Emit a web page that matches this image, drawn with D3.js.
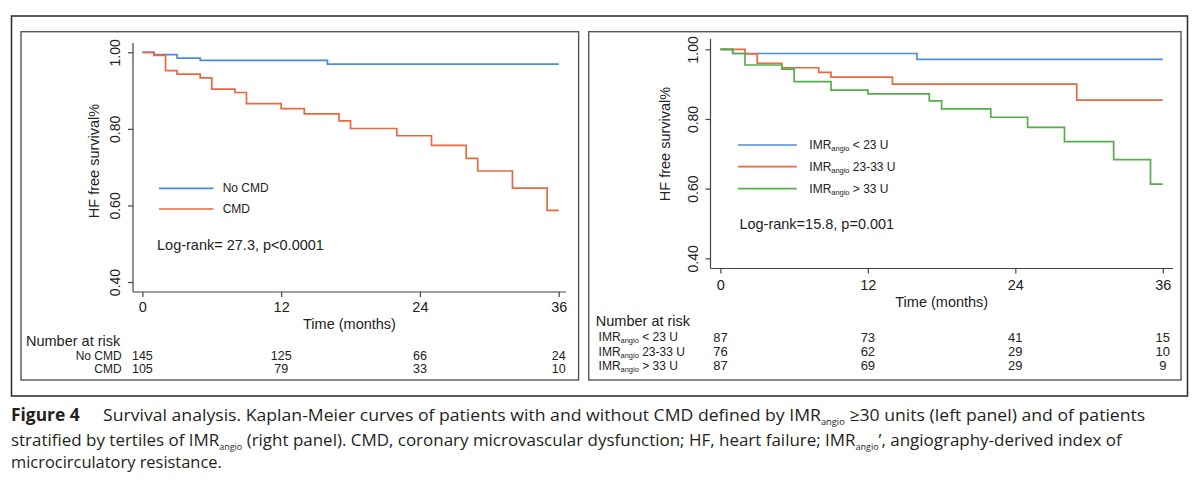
<!DOCTYPE html>
<html>
<head>
<meta charset="utf-8">
<script src="https://cdn.jsdelivr.net/npm/d3@7"></script>
<style>
body { margin:0; background:#fff; }
svg { display:block; font-family:"Liberation Sans", Arial, sans-serif; }
.cap { font-family:"Open Sans", sans-serif; fill:#231f20; font-size:17px; }
</style>
</head>
<body>
<svg id="fig" width="1200" height="489"></svg>
<script>
'use strict';
// shared axes
const months = [0, 12, 24, 36];
const survTicks = [0.4, 0.6, 0.8, 1.0];

// left panel: CMD vs no CMD
const cmdNames = ['No CMD', 'CMD'];
const noCmdTimes = [0, 1, 3, 5, 16, 36];
const noCmdSurv  = [1, 0.994, 0.985, 0.979, 0.969, 0.969];
const cmdTimes = [0, 1, 2, 3, 5, 6, 8, 9, 12, 14, 17, 18, 22, 25, 28, 29, 32, 35, 36];
const cmdSurv  = [1, 0.992, 0.952, 0.943, 0.933, 0.904, 0.895, 0.866, 0.853, 0.839, 0.821, 0.801, 0.782, 0.757, 0.723, 0.690, 0.645, 0.587, 0.587];
const noCmdRisk = [145, 125, 66, 24];
const cmdRisk   = [105, 79, 33, 10];
const leftLogRank = 'Log-rank= 27.3, p<0.0001';

// right panel: IMRangio tertiles
const imrNames = ['< 23 U', '23-33 U', '> 33 U'];
const lowTimes = [0, 1, 16, 36];
const lowSurv  = [1, 0.988, 0.971, 0.971];
const midTimes = [0, 2, 3, 5, 8, 9, 14, 29, 36];
const midSurv  = [1, 0.987, 0.960, 0.947, 0.934, 0.920, 0.900, 0.854, 0.854];
const highTimes = [0, 1, 2, 5, 6, 9, 12, 17, 18, 22, 25, 28, 32, 35, 36];
const highSurv  = [1, 0.988, 0.955, 0.943, 0.907, 0.883, 0.872, 0.852, 0.829, 0.805, 0.776, 0.735, 0.683, 0.613, 0.613];
const lowRisk  = [87, 73, 41, 15];
const midRisk  = [76, 62, 29, 10];
const highRisk = [87, 69, 29, 9];
const rightLogRank = 'Log-rank=15.8, p=0.001';

const colors = ['#4a8ddc', '#e8693f', '#55ae49'];

const svg = d3.select('#fig');
const ink = '#222';

// frames
svg.append('rect').attr('x',11.5).attr('y',16).attr('width',1176).attr('height',380)
  .attr('fill','none').attr('stroke','#333').attr('stroke-width',1.6);
[[21,578.6],[588.7,1181]].forEach(([a,b]) => {
  svg.append('rect').attr('x',a).attr('y',31.7).attr('width',b-a).attr('height',348.3)
    .attr('fill','none').attr('stroke','#555').attr('stroke-width',1.4);
});

function labelIMR(sel, suffix, size) {
  sel.append('tspan').text('IMR');
  sel.append('tspan').attr('dy',3).style('font-size',(size*0.62)+'px').text('angio');
  sel.append('tspan').attr('dy',-3).text(' ' + suffix);
}

function drawPanel(p) {
  const g = svg.append('g');
  const x = d3.scaleLinear().domain([0,36]).range([p.x0,p.x1]);
  const y = d3.scaleLinear().domain([0.4,1]).range([p.yB,p.yT]);

  // axis lines
  g.append('line').attr('x1',p.ax).attr('x2',p.ax).attr('y1',p.axTop).attr('y2',p.ay).attr('stroke','#444').attr('stroke-width',1.2);
  g.append('line').attr('x1',p.ax).attr('x2',p.axRight).attr('y1',p.ay).attr('y2',p.ay).attr('stroke','#444').attr('stroke-width',1.2);

  const yAxis = g.append('g').attr('transform',`translate(${p.ax},0)`)
    .call(d3.axisLeft(y).tickValues(survTicks).tickSize(5).tickFormat(d3.format('.2f')));
  yAxis.select('.domain').remove();
  yAxis.selectAll('line').attr('stroke','#444').attr('stroke-width',1.2);
  yAxis.selectAll('text').attr('transform','rotate(-90)').attr('x',0).attr('y',-18).attr('dy',null)
    .attr('text-anchor','middle').attr('dominant-baseline','central')
    .style('font-size','14px').attr('fill',ink).style('font-family','"Liberation Sans", Arial, sans-serif');

  const xAxis = g.append('g').attr('transform',`translate(0,${p.ay})`)
    .call(d3.axisBottom(x).tickValues(months).tickSize(5));
  xAxis.select('.domain').remove();
  xAxis.selectAll('line').attr('stroke','#444').attr('stroke-width',1.2);
  xAxis.selectAll('text').attr('y',p.tickDy).attr('dy',null).attr('dominant-baseline','central')
    .style('font-size','14.5px').attr('fill',ink).style('font-family','"Liberation Sans", Arial, sans-serif');

  g.append('text').attr('x',(p.ax+p.axRight)/2).attr('y',p.ay+p.titleDy).attr('text-anchor','middle')
    .attr('dominant-baseline','central').style('font-size','14.5px').attr('fill',ink).text('Time (months)');

  g.append('text').attr('transform',`translate(${p.ylabX},${p.ylabY}) rotate(-90)`).attr('text-anchor','middle')
    .attr('dominant-baseline','central').style('font-size','14.5px').attr('fill',ink).text('HF free survival%');

  // curves
  const line = d3.line().curve(d3.curveStepAfter).x(d => x(d[0])).y(d => y(d[1]));
  p.series.forEach((s, i) => {
    g.append('path').datum(d3.zip(s.t, s.s)).attr('d',line).attr('fill','none')
      .attr('stroke',colors[i]).attr('stroke-width',1.7);
  });

  // legend
  p.series.forEach((s, i) => {
    const ly = p.legY[i];
    g.append('line').attr('x1',p.legX0).attr('x2',p.legX1).attr('y1',ly).attr('y2',ly)
      .attr('stroke',colors[i]).attr('stroke-width',1.7);
    const t = g.append('text').attr('x',p.legTx).attr('y',ly).attr('dominant-baseline','central')
      .style('font-size','12px').attr('fill',ink);
    if (p.imr) labelIMR(t, s.name, 12); else t.text(s.name);
  });

  g.append('text').attr('x',p.lrX).attr('y',p.lrY).attr('dominant-baseline','central')
    .style('font-size','14.5px').attr('fill',ink).text(p.logRank);

  // number at risk
  g.append('text').attr('x',p.nrX).attr('y',p.nrY).attr('dominant-baseline','central')
    .style('font-size','14.5px').attr('fill',ink).text('Number at risk');
  p.series.forEach((s, i) => {
    const ry = p.rowY[i];
    const t = g.append('text').attr('x',p.rowLabX).attr('y',ry).attr('dominant-baseline','central')
      .attr('text-anchor',p.imr ? 'start' : 'end').style('font-size','12px').attr('fill',ink);
    if (p.imr) labelIMR(t, s.name, 12); else t.text(s.name);
    g.selectAll(null).data(s.risk).join('text').attr('x',(d, k) => x(months[k])).attr('y',ry)
      .attr('text-anchor','middle').attr('dominant-baseline','central')
      .style('font-size', p.imr ? '13px' : '12.5px').attr('fill',ink).text(d => d);
  });
}

drawPanel({
  x0:142.4, x1:558.7, yT:52.3, yB:282, ax:133, axTop:43, ay:292, axRight:566,
  tickDy:15, titleDy:31.5, ylabX:94, ylabY:161,
  legX0:159, legX1:213.5, legTx:222.7, legY:[188.3, 209],
  lrX:157, lrY:245, logRank:leftLogRank,
  nrX:26, nrY:340.7, rowLabX:121.7, rowY:[356, 369.3], imr:false,
  series:[
    {name:cmdNames[0], t:noCmdTimes, s:noCmdSurv, risk:noCmdRisk},
    {name:cmdNames[1], t:cmdTimes, s:cmdSurv, risk:cmdRisk}
  ]
});

drawPanel({
  x0:720.4, x1:1162.8, yT:49.3, yB:258.3, ax:710.5, axTop:39, ay:268.5, axRight:1173,
  tickDy:16.5, titleDy:33, ylabX:665, ylabY:144,
  legX0:738, legX1:796.7, legTx:809.3, legY:[145, 166.7, 188.7],
  lrX:739.4, lrY:224, logRank:rightLogRank,
  nrX:595.8, nrY:320.7, rowLabX:598.6, rowY:[337.3, 351.7, 365.7], imr:true,
  series:[
    {name:imrNames[0], t:lowTimes, s:lowSurv, risk:lowRisk},
    {name:imrNames[1], t:midTimes, s:midSurv, risk:midRisk},
    {name:imrNames[2], t:highTimes, s:highSurv, risk:highRisk}
  ]
});

// caption: each line laid out naturally, then squeezed horizontally to the reference width
const cap = svg.append('g').attr('class','cap');
function capLine(x, yb, end, parts, bold) {
  const t = cap.append('text').attr('x',0).attr('y',0);
  if (bold) t.style('font-weight','bold');
  parts.forEach(pt => {
    if (pt.sub) t.append('tspan').attr('dy',3.5).style('font-size','9px').text(pt.sub);
    else t.append('tspan').attr('dy',pt.after ? -3.5 : null).text(pt.s);
  });
  const w = t.node().getBBox().width;
  t.attr('transform',`translate(${x},${yb}) scale(${(end-x)/w},1)`);
}
capLine(11, 421, 80, [{s:'Figure 4'}], true);
capLine(103, 421, 1146, [
  {s:'Survival analysis. Kaplan-Meier curves of patients with and without CMD defined by IMR'},
  {sub:'angio'}, {s:' \u226530 units (left panel) and of patients', after:true}
]);
capLine(11, 446, 1124, [
  {s:'stratified by tertiles of IMR'}, {sub:'angio'},
  {s:' (right panel). CMD, coronary microvascular dysfunction; HF, heart failure; IMR', after:true},
  {sub:'angio'}, {s:'\u2019, angiography-derived index of', after:true}
]);
capLine(11, 468, 222, [{s:'microcirculatory resistance.'}]);
</script>
</body>
</html>
